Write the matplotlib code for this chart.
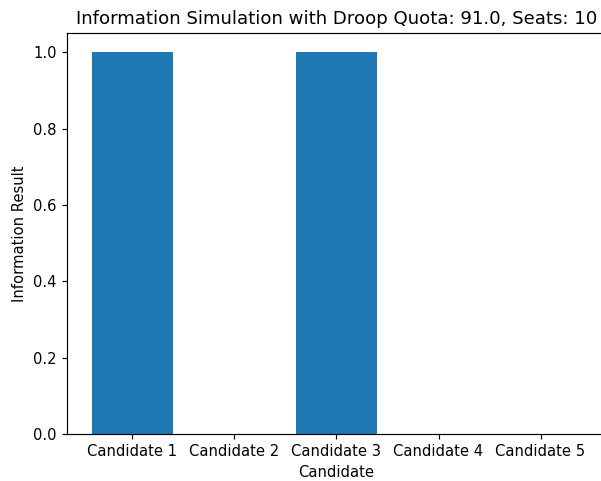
import matplotlib
matplotlib.use('Agg')
import matplotlib.pyplot as plt

# Data
candidates = ['Candidate 1', 'Candidate 2', 'Candidate 3', 'Candidate 4', 'Candidate 5']
results = [1, 0, 1, 0, 0]
droop_quota = 91.0
seats = 10

dpi = 106
fig, ax = plt.subplots(figsize=(601 / dpi, 481 / dpi), dpi=dpi)
fig.subplots_adjust(left=0.1118, right=1.008, bottom=0.0977, top=0.931)

ax.bar(candidates, results)
ax.set_xlabel('Candidate')
ax.set_ylabel('Information Result')
ax.set_title(f'Information Simulation with Droop Quota: {droop_quota}, Seats: {seats}', fontsize=12.3)
# right edge of the axes falls outside the saved image
ax.spines['right'].set_visible(False)

plt.savefig('out.png', dpi=dpi)
